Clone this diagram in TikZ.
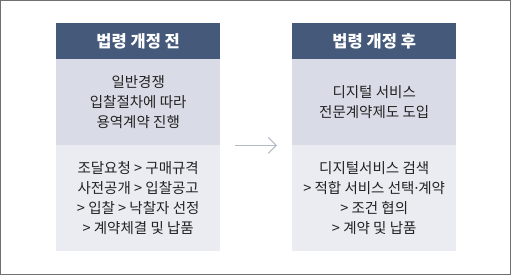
\documentclass[tikz,border=0pt]{standalone}
\usepackage{fontspec}
\setmainfont{Noto Sans CJK KR}
\newfontfamily\latinfont{Noto Sans}
\usetikzlibrary{arrows.meta}
\definecolor{hdr}{HTML}{455A7A}
\definecolor{midc}{HTML}{D9DCE6}
\definecolor{botc}{HTML}{EAECF2}
\definecolor{txt}{HTML}{222222}
\definecolor{arr}{HTML}{B4B9C6}
\definecolor{frame}{HTML}{707070}
\newcommand\middot{{\latinfont\char"00B7}}
\tikzset{
  hdrbox/.style={fill=hdr, text=white, minimum width=164pt, minimum height=36pt, anchor=north west, inner sep=0pt, font=\fontsize{16.5}{18}\selectfont\bfseries},
  midbox/.style={fill=midc, text=txt, minimum width=164pt, minimum height=86pt, anchor=north west, inner sep=0pt, align=center, font=\fontsize{14.5}{20}\selectfont},
  botbox/.style={fill=botc, text=txt, minimum width=164pt, minimum height=106pt, anchor=north west, inner sep=0pt, align=center, font=\fontsize{14.5}{20}\selectfont},
  flow/.style={draw=arr, line width=1.1pt, -{Straight Barb[length=8pt,width=16pt]}}
}
\begin{document}
\begin{tikzpicture}[x=1pt,y=-1pt]
\useasboundingbox (0,0) rectangle (511,275);
\draw[frame, line width=1pt] (0.5,0.5) rectangle (510.5,274.5);
\node[hdrbox] (lh) at (56,23) {법령 개정 전};
\node[midbox] (lm) at (56,59) {일반경쟁\\입찰절차에 따라\\용역계약 진행};
\node[botbox] (lb) at (56,145) {조달요청 > 구매규격\\사전공개 > 입찰공고\\> 입찰 > 낙찰자 선정\\> 계약체결 및 납품};
\node[hdrbox] (rh) at (292,23) {법령 개정 후};
\node[midbox] (rm) at (292,59) {디지털 서비스\\전문계약제도 도입};
\node[botbox] (rb) at (292,145) {디지털서비스 검색\\> 적합 서비스 선택\middot 계약\\> 조건 협의\\> 계약 및 납품};
\draw[flow] ([xshift=15pt]lm.south east) -- ([xshift=-15pt]rm.south west);
\end{tikzpicture}
\end{document}
